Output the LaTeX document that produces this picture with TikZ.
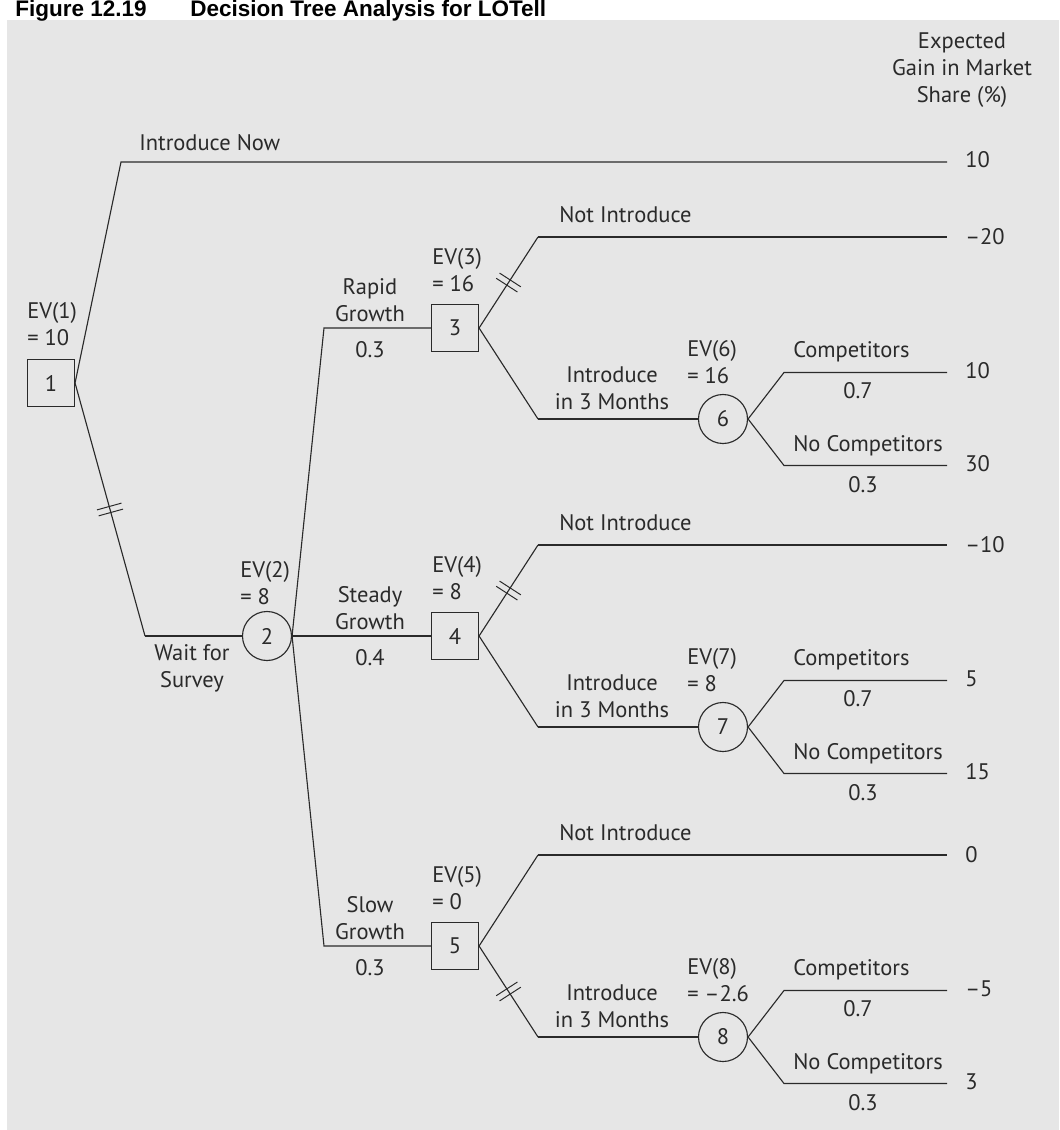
\documentclass[tikz,border=0pt]{standalone}
\usepackage{fontspec}
\setmainfont{PT Sans}
\newfontfamily\titlefont{Liberation Sans}
\usetikzlibrary{positioning,decorations.markings}
\definecolor{panel}{HTML}{E6E6E6}
\definecolor{ink}{HTML}{2A2A2A}

\begin{document}
\begin{tikzpicture}[x=0.025cm,y=-0.025cm,
  every node/.style={font=\fontsize{16}{19}\selectfont,text=ink,inner sep=0pt},
  branch/.style={draw=ink,line width=0.8pt},
  decision/.style={rectangle,draw=ink,line width=0.8pt,minimum size=1.175cm},
  chance/.style={circle,draw=ink,line width=0.8pt,minimum size=1.225cm},
  cut/.style={postaction={decorate,decoration={markings,mark=at position 0.5 with {
    \draw[draw=ink,line width=0.7pt] (-2.2pt,-9pt) -- (-2.2pt,9pt) (2.2pt,-9pt) -- (2.2pt,9pt);}}}},
  nocut/.style={},
  ev/.style={align=left,anchor=west},
  pay/.style={anchor=west}]
\useasboundingbox (0,0) rectangle (1059,1130);
\fill[panel] (7,20) rectangle (1059,1130);
\node[anchor=base east,font=\titlefont\bfseries\fontsize{16}{16}\selectfont,text=black] (fig) at (147,17) {Figure 12.19};
\node[anchor=base west,font=\titlefont\bfseries\fontsize{16}{16}\selectfont,text=black] (title) at (190,17) {Decision Tree Analysis for LOTell};
\node[align=center] (head) at (962,70) {Expected\\Gain in Market\\Share (\%)};
% first decision
\node[decision] (b1) at (51,383) {1};
\node[ev] (ev1) at (27,324) {EV(1)\\= 10};
\coordinate (now) at (121,162);
\coordinate (now-end) at (947,162);
\node[anchor=west] (now-lab) at (139,143) {Introduce Now};
\node[pay] (now-pay) at (965,160) {10};
\draw[branch] (b1.east) -- (now) -- (now-end);
\coordinate (wait) at (145,636);
\node[chance] (c2) at (267,636) {2};
\node[ev] (ev2) at (240,583) {EV(2)\\= 8};
\node[align=center] (wait-lab) at (192,668) {Wait for\\Survey};
\draw[branch,cut] (b1.east) -- (wait);
\draw[branch] (wait) -- (c2);
% survey outcomes
\foreach \n/\y/\g/\p/\ev/\nip/\m/\cev/\ca/\cb/\cutA/\cutB in {
  3/328/Rapid/0.3/16/--20/6/16/10/30/cut/nocut,
  4/636/Steady/0.4/8/--10/7/8/5/15/cut/nocut,
  5/946/Slow/0.3/0/0/8/--2.6/--5/3/nocut/cut}{
  \coordinate (g\n) at (324,\y);
  \node[decision] (b\n) at (455,\y) {\n};
  \node[align=center] (gl\n) at (370,\y-28) {\g\\Growth};
  \node (gp\n) at (370,\y+22) {\p};
  \node[ev] (ev\n) at (432,\y-58) {EV(\n)\\= \ev};
  \draw[branch] (c2.east) -- (g\n) -- (b\n.west);
  \coordinate (ni\n) at (538,\y-91);
  \coordinate (niend\n) at (947,\y-91);
  \node[anchor=west] (nil\n) at (559,\y-113) {Not Introduce};
  \node[pay] (nip\n) at (965,\y-91) {\nip};
  \draw[branch,\cutA] (b\n.east) -- (ni\n);
  \draw[branch] (ni\n) -- (niend\n);
  \coordinate (in\n) at (538,\y+91);
  \node[chance] (c\m) at (723,\y+91) {\m};
  \node[align=center] (inl\n) at (612,\y+60) {Introduce\\in 3 Months};
  \node[ev] (ev\m) at (687,\y+34) {EV(\m)\\= \cev};
  \draw[branch,\cutB] (b\n.east) -- (in\n);
  \draw[branch] (in\n) -- (c\m);
  \coordinate (co\m) at (784,\y+44.5);
  \coordinate (coend\m) at (947,\y+44.5);
  \coordinate (nc\m) at (784,\y+137.5);
  \coordinate (ncend\m) at (947,\y+137.5);
  \node[anchor=west] (col\m) at (793,\y+23.5) {Competitors};
  \node (cop\m) at (858,\y+62.5) {0.7};
  \node[anchor=west] (ncl\m) at (793,\y+117.5) {No Competitors};
  \node (ncp\m) at (863,\y+156.5) {0.3};
  \node[pay] (cpay\m) at (965,\y+43) {\ca};
  \node[pay] (npay\m) at (965,\y+136) {\cb};
  \draw[branch] (c\m.east) -- (co\m) -- (coend\m);
  \draw[branch] (c\m.east) -- (nc\m) -- (ncend\m);
}
\end{tikzpicture}
\end{document}
